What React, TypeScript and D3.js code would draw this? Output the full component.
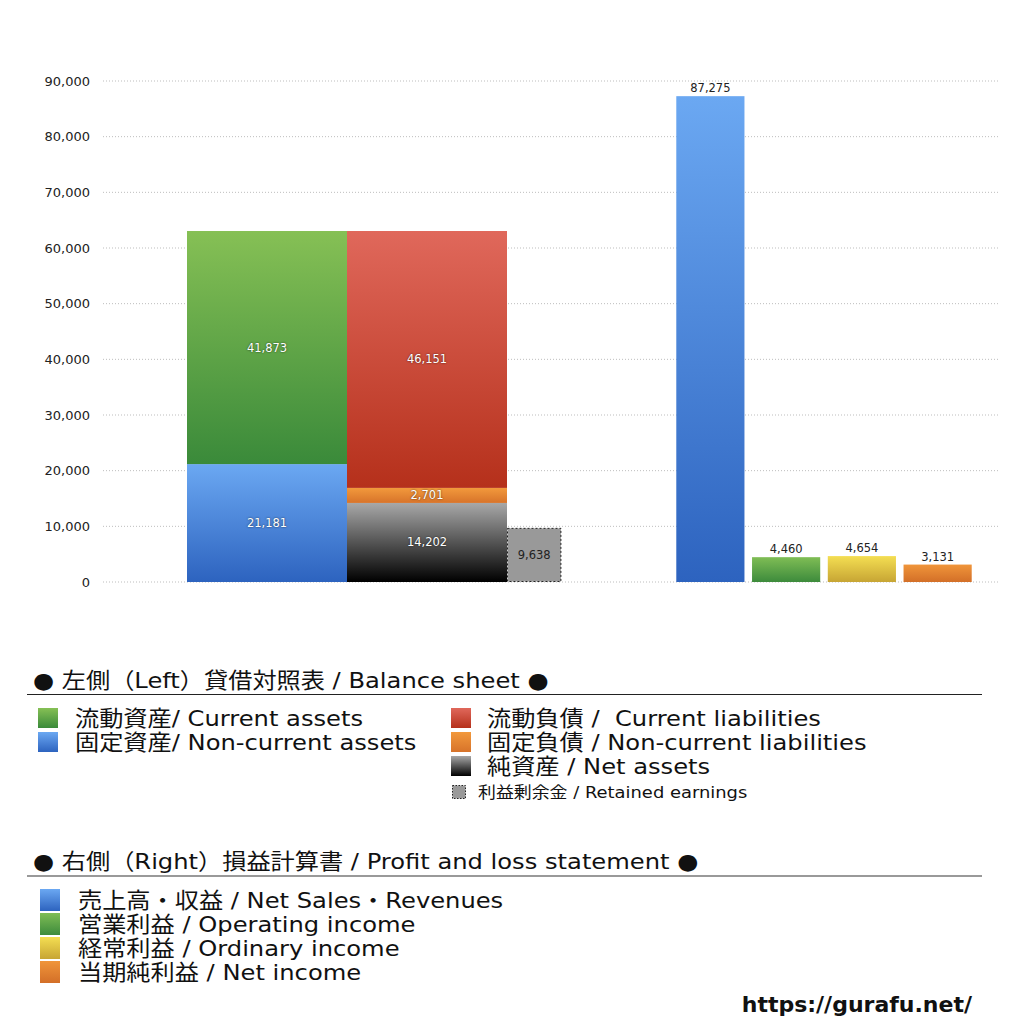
import * as d3 from "d3";
import React from "react";

// balance sheet (left)
const assetKeys = ["nca", "ca"];
const assetValues = [21181, 41873];
const liabKeys = ["na", "ncl", "cl"];
const liabValues = [14202, 2701, 46151];
const retainedValue = 9638;

// profit and loss (right)
const plKeys = ["sales", "op", "ord", "net"];
const plValues = [87275, 4460, 4654, 3131];

const yTicks = [0, 10000, 20000, 30000, 40000, 50000, 60000, 70000, 80000, 90000];

const GRADS: Record<string, [string, string]> = {
  ca: ["#86c055", "#3a8a3a"],
  nca: ["#6ba8f2", "#2d63bf"],
  cl: ["#e0685b", "#b5301b"],
  ncl: ["#f2993c", "#d7732a"],
  na: ["#a8a8a8", "#000000"],
  sales: ["#6ba8f2", "#2d63bf"],
  op: ["#7fbd55", "#3d8b3c"],
  ord: ["#f4de52", "#c7a534"],
  net: ["#f0953a", "#d36f28"],
};

const bsLegendLeft = [
  { key: "ca", label: "流動資産/ Current assets" },
  { key: "nca", label: "固定資産/ Non-current assets" },
];
const bsLegendRight = [
  { key: "cl", label: "流動負債 /  Current liabilities" },
  { key: "ncl", label: "固定負債 / Non-current liabilities" },
  { key: "na", label: "純資産 / Net assets" },
];
const plLegend = [
  { key: "sales", label: "売上高・収益 / Net Sales・Revenues" },
  { key: "op", label: "営業利益 / Operating income" },
  { key: "ord", label: "経常利益 / Ordinary income" },
  { key: "net", label: "当期純利益 / Net income" },
];

const FONT = "'DejaVu Sans', 'Noto Sans CJK JP', sans-serif";
const fmt = d3.format(",");

// legend text is set wide in the original, so stretch it a little
function Wide({ x, y, size, sx = 1.1, children }: { x: number; y: number; size: number; sx?: number; children: React.ReactNode }) {
  return (
    <text transform={`translate(${x},${y}) scale(${sx},1)`} fontSize={size} fill="#111"
      style={{ whiteSpace: "pre" }}>{children}</text>
  );
}

export default function App() {
  const y = d3.scaleLinear().domain([0, 90000]).range([582, 81]);
  const xBs = d3.scaleBand<string>().domain(["assets", "liab"]).range([187, 507]).padding(0);
  const xPl = d3.scaleBand<string>().domain(plKeys).range([672.5, 975.5]).paddingInner(0.1).paddingOuter(0.05);

  const stack = (keys: string[], vals: number[]) => {
    let acc = 0;
    return keys.map((k, i) => {
      const s = { key: k, v: vals[i], y0: acc, y1: acc + vals[i] };
      acc += vals[i];
      return s;
    });
  };
  const assetStack = stack(assetKeys, assetValues);
  const liabStack = stack(liabKeys, liabValues);

  const bw = xBs.bandwidth();
  const retX = (xBs("liab") ?? 0) + bw;
  const retW = bw * 0.34;

  const inLabel = (x: number, yy: number, v: number) => (
    <text x={x} y={yy} dy="0.35em" textAnchor="middle" fill="#fff" fontSize={11.5}
      style={{ textShadow: "0 0 2px rgba(0,0,0,0.7)" }}>{fmt(v)}</text>
  );

  return (
    <svg width={1024} height={1024} style={{ position: "absolute", left: 0, top: 0, background: "#fff" }}
      fontFamily={FONT}>
      <defs>
        {Object.entries(GRADS).map(([k, [a, b]]) => (
          <linearGradient key={k} id={`g-${k}`} x1="0" y1="0" x2="0" y2="1">
            <stop offset="0" stopColor={a} />
            <stop offset="1" stopColor={b} />
          </linearGradient>
        ))}
      </defs>

      {/* grid + y axis */}
      {yTicks.map(t => (
        <g key={t}>
          <line x1={103} x2={1000} y1={y(t)} y2={y(t)} stroke="#bdbdbd" strokeDasharray="1,2" />
          <text x={90} y={y(t)} dy="0.35em" textAnchor="end" fontSize={13} fill="#222">{fmt(t)}</text>
        </g>
      ))}

      {/* balance sheet */}
      {assetStack.map(s => (
        <g key={s.key}>
          <rect x={xBs("assets")} y={y(s.y1)} width={bw} height={y(s.y0) - y(s.y1)} fill={`url(#g-${s.key})`} />
          {inLabel((xBs("assets") ?? 0) + bw / 2, (y(s.y0) + y(s.y1)) / 2, s.v)}
        </g>
      ))}
      {liabStack.map(s => (
        <g key={s.key}>
          <rect x={xBs("liab")} y={y(s.y1)} width={bw} height={y(s.y0) - y(s.y1)} fill={`url(#g-${s.key})`} />
          {inLabel((xBs("liab") ?? 0) + bw / 2, (y(s.y0) + y(s.y1)) / 2, s.v)}
        </g>
      ))}
      <rect x={retX + 0.5} y={y(retainedValue)} width={retW - 1} height={y(0) - y(retainedValue) - 0.5}
        fill="#999" stroke="#222" strokeDasharray="2,2" />
      <text x={retX + retW / 2} y={(y(0) + y(retainedValue)) / 2} dy="0.35em" textAnchor="middle"
        fontSize={11.5} fill="#222">{fmt(retainedValue)}</text>

      {/* profit and loss */}
      {plKeys.map((k, i) => (
        <g key={k}>
          <rect x={xPl(k)} y={y(plValues[i])} width={xPl.bandwidth()} height={y(0) - y(plValues[i])} fill={`url(#g-${k})`} />
          <text x={(xPl(k) ?? 0) + xPl.bandwidth() / 2} y={y(plValues[i]) - 4} textAnchor="middle"
            fontSize={11.5} fill="#222">{fmt(plValues[i])}</text>
        </g>
      ))}

      {/* legend: balance sheet */}
      <Wide x={33} y={688} size={22}>● 左側（Left）貸借対照表 / Balance sheet ●</Wide>
      <line x1={27} x2={982} y1={694.5} y2={694.5} stroke="#222" />
      {bsLegendLeft.map((d, i) => (
        <g key={d.key}>
          <rect x={38} y={708 + i * 24} width={20} height={20} fill={`url(#g-${d.key})`} />
          <Wide x={75} y={726 + i * 24} size={22}>{d.label}</Wide>
        </g>
      ))}
      {bsLegendRight.map((d, i) => (
        <g key={d.key}>
          <rect x={451} y={708 + i * 24} width={20} height={20} fill={`url(#g-${d.key})`} />
          <Wide x={487} y={726 + i * 24} size={22}>{d.label}</Wide>
        </g>
      ))}
      <rect x={452.5} y={785.5} width={13} height={13} fill="#999" stroke="#222" strokeDasharray="1.5,1.5" />
      <Wide x={478} y={798} size={16} sx={1.12}>利益剰余金 / Retained earnings</Wide>

      {/* legend: profit and loss */}
      <Wide x={33} y={869} size={22}>● 右側（Right）損益計算書 / Profit and loss statement ●</Wide>
      <line x1={27} x2={982} y1={876} y2={876} stroke="#777" strokeWidth={1.5} />
      {plLegend.map((d, i) => (
        <g key={d.key}>
          <rect x={40} y={889 + i * 24} width={20} height={22} fill={`url(#g-${d.key})`} />
          <Wide x={78} y={908 + i * 24} size={22}>{d.label}</Wide>
        </g>
      ))}

      <text x={972} y={1012} textAnchor="end" fontSize={22} fontWeight="bold" fill="#111">https://gurafu.net/</text>
    </svg>
  );
}
